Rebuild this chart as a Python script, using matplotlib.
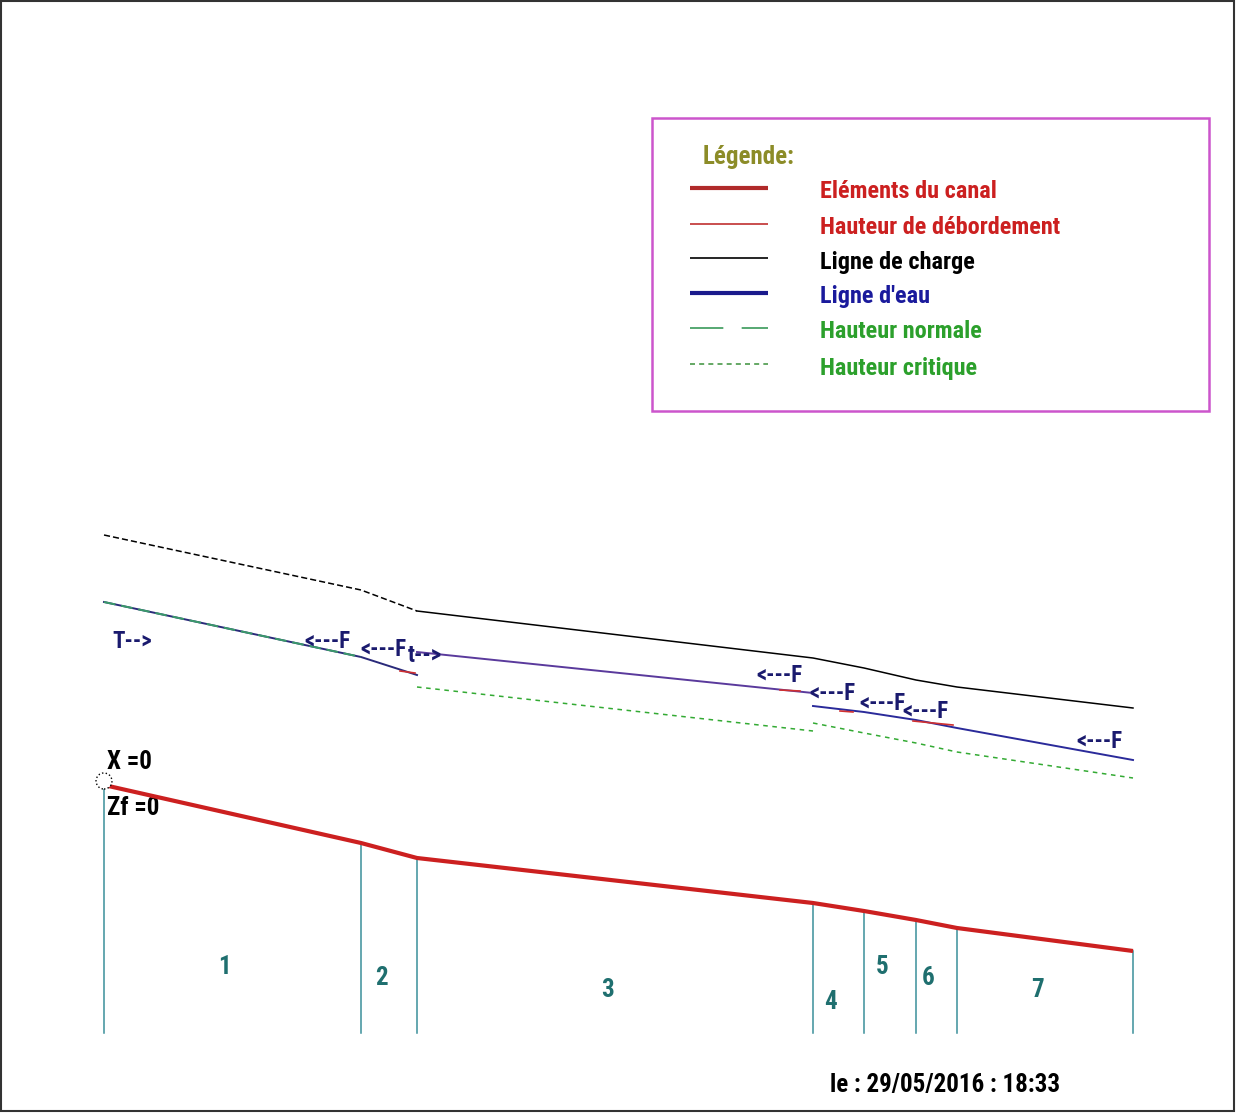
import matplotlib
matplotlib.use('Agg')
import matplotlib.pyplot as plt
from matplotlib.patches import Circle, Rectangle

W, H = 1236, 1113
plt.rcParams['font.family'] = ['Roboto Condensed', 'DejaVu Sans']

# --- profil en long du canal (abscisses cumulées, cotes) ---
sections = ['1', '2', '3', '4', '5', '6', '7']
x_pk = [0, 257, 313, 709, 760, 812, 853, 1029]
z_fond = [0, -58, -73, -118, -126, -135, -143, -166]
z_charge = [250, 195, 174, 127, 117, 105, 98, 77]

# ligne d'eau par tronçons (ressaut entre 2 et 3, chute au début du 4)
eau_x1 = [0, 257, 313]
eau_z1 = [183, 128, 110]
eau_x2 = [313, 709]
eau_z2 = [133, 92]
eau_x3 = [709, 760, 812, 853, 1029]
eau_z3 = [79, 73, 65, 57, 25]

# hauteur normale (tronçon 1) et hauteur critique (tronçons 3 à 7)
norm_x = [0, 257]
norm_z = [183, 128]
crit_x1 = [313, 709]
crit_z1 = [98, 54]
crit_x2 = [709, 760, 812, 853, 1029]
crit_z2 = [62, 52, 42, 33, 7]

# hauteur de débordement (morceaux visibles)
deb_x = [(296, 311), (676, 696), (736, 749), (809, 849)]
deb_z = [(114, 112), (95, 94), (74, 73), (64, 60)]

z_bas = -248

fig = plt.figure(figsize=(W / 100, H / 100), dpi=100)
ax = fig.add_axes([0, 0, 1, 1])
ax.set_xlim(-104, W - 104)
ax.set_ylim(785 - H, 785)
ax.axis('off')

# fond du canal
ax.plot(x_pk, z_fond, color='#cc2020', lw=3.0, solid_capstyle='butt', zorder=4)
for x, z in zip(x_pk, z_fond):
    ax.plot([x, x], [z_bas, z], color='#3a8f9a', lw=1.1, zorder=3)

# numéros des tronçons
num_z = [-182, -193, -205, -217, -182, -193, -205]
for i, s in enumerate(sections):
    xm = (x_pk[i] + x_pk[i + 1]) / 2 - 8
    ax.text(xm, num_z[i], s, color='#1f6f6f', fontsize=18, fontweight='bold',
            ha='center', va='center')

# ligne de charge
ax.plot(x_pk[:3], z_charge[:3], color='black', lw=1.1, ls=(0, (4, 2)))
ax.plot(x_pk[2:], z_charge[2:], color='black', lw=1.1)

# hauteur critique
ax.plot(crit_x1, crit_z1, color='#33aa33', lw=1.1, ls=(0, (3, 3)))
ax.plot(crit_x2, crit_z2, color='#33aa33', lw=1.1, ls=(0, (3, 3)))

# ligne d'eau
ax.plot(eau_x1, eau_z1, color='#2a2a7a', lw=1.4, zorder=5)
ax.plot(eau_x2, eau_z2, color='#5a3a9c', lw=1.4, zorder=5)
ax.plot(eau_x3, eau_z3, color='#2a2a9a', lw=1.4, zorder=5)

# hauteur normale
ax.plot(norm_x, norm_z, color='#3a9a6a', lw=1.4, ls=(0, (6, 3)), zorder=6)

# débordement
for (xa, xb), (za, zb) in zip(deb_x, deb_z):
    ax.plot([xa, xb], [za, zb], color='#d03030', lw=1.2, zorder=7)

# régimes d'écoulement
regimes = ['T-->', '<---F', '<---F', 't-->', '<---F', '<---F', '<---F', '<---F', '<---F']
reg_pos = [(8, 144), (200, 143), (256, 136), (304, 130), (652, 109),
           (705, 92), (755, 81), (798, 73), (972, 44)]
for txt, (x, z) in zip(regimes, reg_pos):
    ax.text(x, z, txt, color='#1a1a6e', fontsize=16.5, fontweight='bold',
            ha='left', va='center', zorder=8)

# origine
ax.add_patch(Circle((0, 4), 8, facecolor='white', edgecolor='black',
                    lw=1.0, ls=':', zorder=9))
ax.text(3, 23, 'X =0', fontsize=18, fontweight='bold', ha='left', va='center')
ax.text(3, -23, 'Zf =0', fontsize=18, fontweight='bold', ha='left', va='center')

# --- légende et cartouche (coordonnées écran) ---
lay = fig.add_axes([0, 0, 1, 1], facecolor='none')
lay.set_xlim(0, W)
lay.set_ylim(H, 0)
lay.axis('off')

lay.add_patch(Rectangle((652, 118), 557, 293, facecolor='none',
                        edgecolor='#cc55cc', lw=1.8))
lay.text(703, 157, 'Légende:', color='#8c8c28', fontsize=18,
         fontweight='bold', va='center')

leg_labels = ['Eléments du canal', 'Hauteur de débordement', 'Ligne de charge',
              "Ligne d'eau", 'Hauteur normale', 'Hauteur critique']
leg_colors = ['#cc2020', '#cc2020', 'black', '#1a1a9c', '#2ca02c', '#2ca02c']
leg_line_c = ['#b02a2a', '#c03030', 'black', '#1a1a8c', '#3a9a5a', '#4a9a4a']
leg_line_w = [3.0, 1.2, 1.2, 3.0, 1.2, 1.2]
leg_line_s = ['-', '-', '-', '-', (0, (20, 11)), (0, (3, 2.5))]
leg_y = [188, 224, 258, 293, 328, 364]
for lab, c, lc, lw, ls, y in zip(leg_labels, leg_colors, leg_line_c,
                                 leg_line_w, leg_line_s, leg_y):
    lay.plot([690, 768], [y, y], color=lc, lw=lw, ls=ls, solid_capstyle='butt')
    lay.text(820, y + 4, lab, color=c, fontsize=17.5, fontweight='bold',
             va='center')

lay.text(830, 1085, 'le : 29/05/2016 : 18:33', color='black', fontsize=18,
         fontweight='bold', va='center')

lay.add_patch(Rectangle((1, 1), W - 3, H - 3, facecolor='none',
                        edgecolor='#333333', lw=1.5))

fig.savefig('out.png', dpi=100)
